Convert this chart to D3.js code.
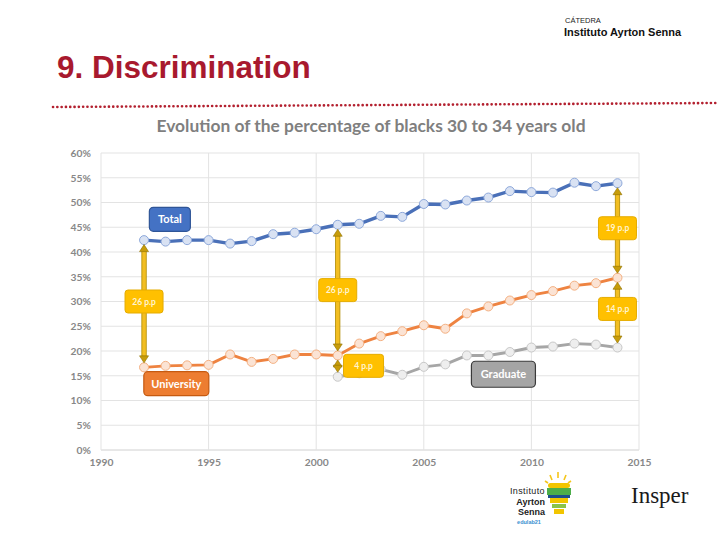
<!DOCTYPE html>
<html><head><meta charset="utf-8">
<script src="https://cdn.jsdelivr.net/npm/d3@7"></script>
<style>
html,body{margin:0;padding:0;background:#fff;}
svg{display:block;}
</style></head>
<body>
<svg id="chart" width="720" height="540"></svg>
<script>
// ---- data ----
const years = [1992,1993,1994,1995,1996,1997,1998,1999,2000,2001,2002,2003,2004,2005,2006,2007,2008,2009,2010,2011,2012,2013,2014];
const totalValues = [42.4,42.1,42.4,42.4,41.7,42.2,43.6,43.9,44.6,45.5,45.7,47.3,47.1,49.7,49.6,50.4,51.0,52.3,52.1,52.0,54.0,53.3,53.9];
const universityValues = [16.7,17.0,17.1,17.2,19.3,17.8,18.4,19.3,19.3,19.1,21.5,23.0,24.0,25.2,24.5,27.6,29.0,30.2,31.3,32.1,33.2,33.7,34.8];
const graduateYears = [2001,2002,2003,2004,2005,2006,2007,2008,2009,2010,2011,2012,2013,2014];
const graduateValues = [14.8,15.5,16.3,15.2,16.8,17.3,19.1,19.1,19.8,20.7,20.9,21.5,21.3,20.7];
const yTicks = [0,5,10,15,20,25,30,35,40,45,50,55,60];
const xTicks = [1990,1995,2000,2005,2010,2015];
const seriesNames = ["Total","University","Graduate"];
// gap annotations
const gapYears = [1992,2001,2001,2014,2014];
const gapLabels = ["26 p.p","26 p.p","4 p.p","19 p.p","14 p.p"];

// ---- layout ----
const svg = d3.select("#chart");
const x = d3.scaleLinear().domain([1990,2015]).range([101,639]);
const y = d3.scaleLinear().domain([0,60]).range([450,153]);
const axisFont = "Lato, 'Open Sans', sans-serif";

// header
svg.append("text").attr("x",565).attr("y",23).text("CÁTEDRA")
  .attr("font-family","'Liberation Sans', Arial, sans-serif").attr("font-size",7.5).attr("fill","#222");
svg.append("text").attr("x",564).attr("y",36).text("Instituto Ayrton Senna")
  .attr("font-family","'Liberation Sans', Arial, sans-serif").attr("font-size",11).attr("font-weight","bold").attr("fill","#111");

// title
svg.append("text").attr("x",57).attr("y",78).text("9. Discrimination")
  .attr("font-family","'Liberation Sans', Arial, sans-serif").attr("font-size",31.5).attr("font-weight","bold").attr("fill","#A8192E");

// dotted rule
svg.append("line").attr("x1",53).attr("y1",107).attr("x2",718).attr("y2",103)
  .attr("stroke","#B3202F").attr("stroke-width",2.6).attr("stroke-linecap","round").attr("stroke-dasharray","0.1 4.2");

// chart title
svg.append("text").attr("x",371).attr("y",132).attr("text-anchor","middle")
  .text("Evolution of the percentage of blacks 30 to 34 years old")
  .attr("font-family",axisFont).attr("font-size",17.4).attr("font-weight","bold").attr("fill","#7F7F7F");

// gridlines
const g = svg.append("g");
g.selectAll(".hg").data(yTicks).join("line")
  .attr("x1",x(1990)).attr("x2",x(2015)).attr("y1",d=>y(d)).attr("y2",d=>y(d))
  .attr("stroke",d=>d===0?"#D0D0D0":"#E3E3E3").attr("stroke-width",1);
g.selectAll(".vg").data(xTicks).join("line")
  .attr("x1",d=>x(d)).attr("x2",d=>x(d)).attr("y1",y(60)).attr("y2",y(0))
  .attr("stroke","#E3E3E3").attr("stroke-width",1);

// axes
const yAxis = d3.axisLeft(y).tickValues(yTicks).tickFormat(d=>d+"%").tickSize(0).tickPadding(10);
const ya = svg.append("g").attr("transform",`translate(${x(1990)},0)`).call(yAxis);
ya.select(".domain").remove();
ya.selectAll("text").attr("font-family",axisFont).attr("font-size",10.3).attr("font-weight","bold").attr("fill","#888");
const xAxis = d3.axisBottom(x).tickValues(xTicks).tickFormat(d3.format("d")).tickSize(0).tickPadding(9);
const xa = svg.append("g").attr("transform",`translate(0,${y(0)})`).call(xAxis);
xa.select(".domain").remove();
xa.selectAll("text").attr("font-family",axisFont).attr("font-size",10.3).attr("font-weight","bold").attr("fill","#888");

// lines
const line = d3.line().x(d=>x(d[0])).y(d=>y(d[1]));
const series = [
  {pts: years.map((yr,i)=>[yr,totalValues[i]]), stroke:"#4A70B8", width:3.4, fill:"#D9E2F3", ms:"#8EA9DB"},
  {pts: years.map((yr,i)=>[yr,universityValues[i]]), stroke:"#EE8341", width:2.9, fill:"#FBE3D4", ms:"#F4B183"},
  {pts: graduateYears.map((yr,i)=>[yr,graduateValues[i]]), stroke:"#A6A6A6", width:2.9, fill:"#EEEEEE", ms:"#C8C8C8"}
];
series.forEach(s=>{
  svg.append("path").datum(s.pts).attr("d",line).attr("fill","none")
    .attr("stroke",s.stroke).attr("stroke-width",s.width).attr("stroke-linejoin","round");
  svg.append("g").selectAll("circle").data(s.pts).join("circle")
    .attr("cx",d=>x(d[0])).attr("cy",d=>y(d[1])).attr("r",4.5)
    .attr("fill",s.fill).attr("stroke",s.ms).attr("stroke-width",1);
});

// gap arrows
function valAt(yr, arr, yrs){ return arr[yrs.indexOf(yr)]; }
const gaps = [
  {yr:1992, top:valAt(1992,totalValues,years), bot:valAt(1992,universityValues,years), lx:0, ly:30},
  {yr:2001, top:valAt(2001,totalValues,years), bot:valAt(2001,universityValues,years), lx:0, ly:32.3},
  {yr:2001, top:valAt(2001,universityValues,years), bot:valAt(2001,graduateValues,graduateYears), lx:1.2, ly:17.0},
  {yr:2014, top:valAt(2014,totalValues,years), bot:valAt(2014,universityValues,years), lx:0, ly:44.8},
  {yr:2014, top:valAt(2014,universityValues,years), bot:valAt(2014,graduateValues,graduateYears), lx:0, ly:28.5}
];
const ag = svg.append("g");
gaps.forEach((gp,i)=>{
  const cx = x(gp.yr);
  const y1 = y(gp.top)+4.5, y2 = y(gp.bot)-4.5;
  const h = 7;
  ag.append("rect").attr("x",cx-2.2).attr("y",y1+h-1).attr("width",4.4).attr("height",Math.max(0,y2-y1-2*h+2))
    .attr("fill","#F2BE22").attr("stroke","#B08A00").attr("stroke-width",0.8);
  ag.append("path").attr("d",`M${cx},${y1} L${cx-4.5},${y1+h} L${cx+4.5},${y1+h} Z`)
    .attr("fill","#C79C0A").attr("stroke","#8F7000").attr("stroke-width",0.6);
  ag.append("path").attr("d",`M${cx},${y2} L${cx-4.5},${y2-h} L${cx+4.5},${y2-h} Z`)
    .attr("fill","#C79C0A").attr("stroke","#8F7000").attr("stroke-width",0.6);
});
gaps.forEach((gp,i)=>{
  const cx = x(gp.yr+gp.lx), cy = y(gp.ly);
  const w = gapLabels[i].length>5?38:40, hh=23;
  ag.append("rect").attr("x",cx-w/2).attr("y",cy-hh/2).attr("width",w).attr("height",hh).attr("rx",3)
    .attr("fill","#FFC000").attr("stroke","#E5AC00").attr("stroke-width",1);
  ag.append("text").attr("x",cx).attr("y",cy+3).attr("text-anchor","middle").text(gapLabels[i])
    .attr("font-family",axisFont).attr("font-size",8.5).attr("font-weight","bold").attr("fill","#FFF4D0");
});

// series name boxes
const nameBoxes = [
  {name:seriesNames[0], yr:1993.2, v:46.6, w:41, h:24, fill:"#4472C4", stroke:"#2F5597"},
  {name:seriesNames[1], yr:1993.5, v:13.4, w:65, h:24, fill:"#ED7D31", stroke:"#C55A11"},
  {name:seriesNames[2], yr:2008.7, v:15.3, w:64, h:26, fill:"#A5A5A5", stroke:"#3A3A3A"}
];
nameBoxes.forEach(b=>{
  const cx=x(b.yr), cy=y(b.v);
  svg.append("rect").attr("x",cx-b.w/2).attr("y",cy-b.h/2).attr("width",b.w).attr("height",b.h).attr("rx",4)
    .attr("fill",b.fill).attr("stroke",b.stroke).attr("stroke-width",1.2);
  svg.append("text").attr("x",cx).attr("y",cy+4).attr("text-anchor","middle").text(b.name)
    .attr("font-family",axisFont).attr("font-size",11).attr("font-weight","bold").attr("fill","#fff");
});

// logos
const lg = svg.append("g");
lg.append("text").attr("x",545).attr("y",494).attr("text-anchor","end").text("Instituto")
  .attr("font-family","'Liberation Sans', Arial, sans-serif").attr("font-size",9).attr("letter-spacing",0.4).attr("fill","#222");
lg.append("text").attr("x",545).attr("y",504.5).attr("text-anchor","end").text("Ayrton")
  .attr("font-family","'Liberation Sans', Arial, sans-serif").attr("font-size",9).attr("font-weight","bold").attr("fill","#222");
lg.append("text").attr("x",545).attr("y",515).attr("text-anchor","end").text("Senna")
  .attr("font-family","'Liberation Sans', Arial, sans-serif").attr("font-size",9).attr("font-weight","bold").attr("fill","#222");
lg.append("text").attr("x",529).attr("y",524).attr("text-anchor","middle").text("edulab21")
  .attr("font-family","'Liberation Sans', Arial, sans-serif").attr("font-size",5.5).attr("font-weight","bold").attr("fill","#3A8FD0");
// bulb
[[558,472,558,478],[550,475,552,480],[566,475,564,480],[545,481,548,483],[571,481,568,483]].forEach(r=>{
  lg.append("line").attr("x1",r[0]).attr("y1",r[1]).attr("x2",r[2]).attr("y2",r[3]).attr("stroke","#F5C518").attr("stroke-width",1.6);
});
lg.append("rect").attr("x",548).attr("y",483).attr("width",22).attr("height",5).attr("rx",2.5).attr("fill","#F2C500");
lg.append("rect").attr("x",547).attr("y",488).attr("width",24).attr("height",7).attr("fill","#4DAE4A");
lg.append("rect").attr("x",548).attr("y",495).attr("width",22).attr("height",3).attr("fill","#1E4F8C");
lg.append("rect").attr("x",550).attr("y",498).attr("width",18).attr("height",5).attr("fill","#F2C500");
lg.append("rect").attr("x",552).attr("y",504).attr("width",14).attr("height",4).attr("fill","#8BC34A");
lg.append("rect").attr("x",554).attr("y",509).attr("width",10).attr("height",5).attr("fill","#F2C500");
lg.append("text").attr("x",631).attr("y",503).text("Insper")
  .attr("font-family","'Liberation Serif', 'DejaVu Serif', serif").attr("font-size",23).attr("fill","#1a1a1a");
</script>
</body></html>
